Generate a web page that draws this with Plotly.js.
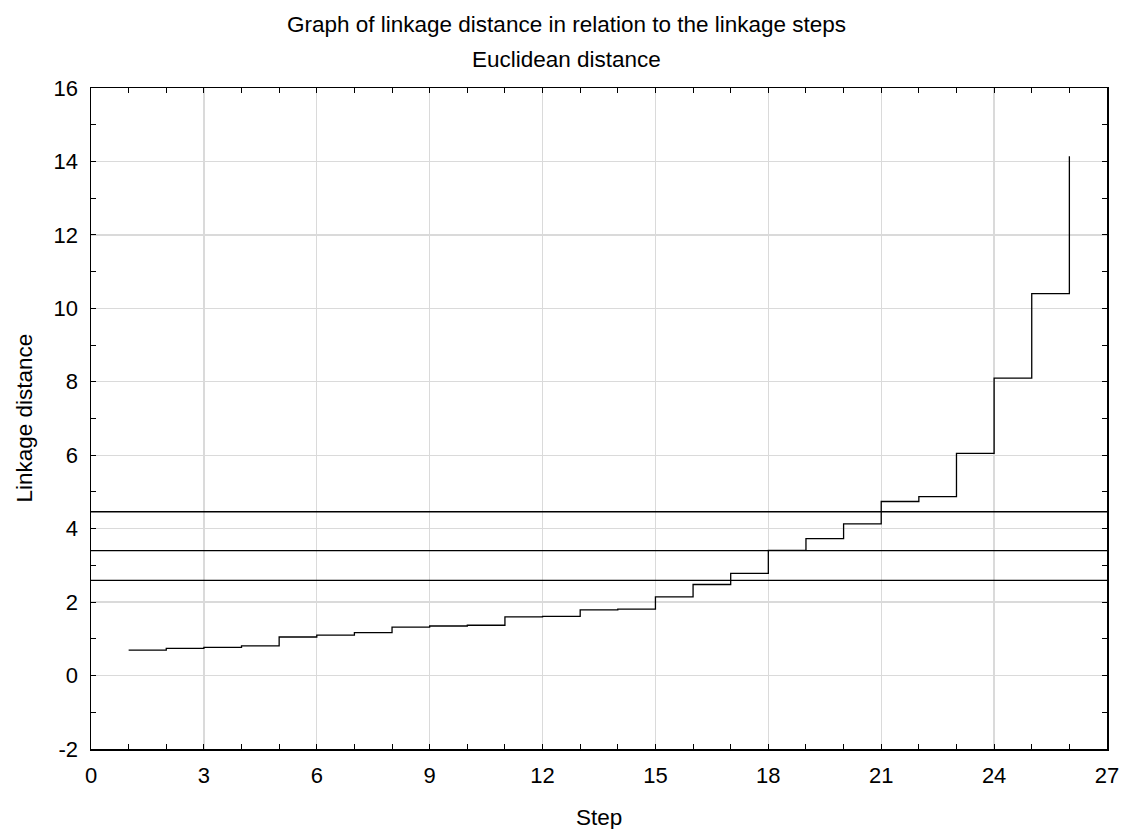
<!DOCTYPE html>
<html>
<head>
<meta charset="utf-8">
<script src="https://cdn.plot.ly/plotly-3.0.1.min.js"></script>
<style>html,body{margin:0;padding:0;background:#fff;}#chart{width:1126px;height:829px;}</style>
</head>
<body>
<div id="chart"></div>
<script>
// Linkage steps and linkage distances
var steps = [1,2,3,4,5,6,7,8,9,10,11,12,13,14,15,16,17,18,19,20,21,22,23,24,25,26];
var linkageDistance = [0.69,0.74,0.77,0.81,1.05,1.10,1.17,1.32,1.35,1.37,1.60,1.61,1.79,1.81,2.14,2.48,2.78,3.41,3.73,4.13,4.74,4.87,6.05,8.10,10.40,14.14];
// Horizontal reference (cut-off) levels
var cutLevels = [2.59, 3.40, 4.46];
var xTickVals = [0,3,6,9,12,15,18,21,24,27];
var xTickText = ["0","3","6","9","12","15","18","21","24","27"];
var yTickVals = [-2,0,2,4,6,8,10,12,14,16];
var yTickText = ["-2","0","2","4","6","8","10","12","14","16"];

var titleMain = "Graph of linkage distance in relation to the linkage steps";
var titleSub = "Euclidean distance";
var xTitle = "Step";
var yTitle = "Linkage distance";

var FONT = "Liberation Sans, Arial, sans-serif";
var FS = 22;

var traces = [{
  x: steps, y: linkageDistance,
  type: 'scatter', mode: 'lines',
  line: {shape: 'hv', color: '#000', width: 1.3},
  hoverinfo: 'x+y', showlegend: false
}];

var shapes = cutLevels.map(function(v){
  return {type:'line', xref:'paper', x0:0, x1:1, yref:'y', y0:v, y1:v,
          line:{color:'#000', width:1.3}};
});

var axisCommon = {
  showline: true, linecolor: '#000', linewidth: 1.5, mirror: 'ticks',
  ticks: 'inside', ticklen: 5, tickcolor: '#000', tickwidth: 1,
  showgrid: true, gridcolor: '#dadada', gridwidth: 1.3,
  zeroline: false, tickfont: {family: FONT, size: FS, color: '#000'}
};

var layout = {
  width: 1126, height: 829,
  margin: {l: 91, r: 19, t: 88, b: 80},
  paper_bgcolor: '#fff', plot_bgcolor: '#fff',
  font: {family: FONT, size: FS, color: '#000'},
  xaxis: Object.assign({}, axisCommon, {
    range: [0, 27], tickmode: 'array', tickvals: xTickVals, ticktext: xTickText,
    minor: {dtick: 1, tick0: 0, ticks: 'inside', ticklen: 5, tickcolor: '#000', showgrid: false},
    ticklabelstandoff: 6
  }),
  yaxis: Object.assign({}, axisCommon, {
    range: [-2, 16], tickmode: 'array', tickvals: yTickVals, ticktext: yTickText,
    minor: {dtick: 1, tick0: 0, ticks: 'inside', ticklen: 5, tickcolor: '#000', showgrid: false},
    ticklabelstandoff: 7
  }),
  shapes: shapes,
  annotations: [
    {text: titleMain, xref: 'paper', yref: 'paper', x: (566-91)/1016, y: 1 + (88-25)/661,
     xanchor: 'center', yanchor: 'middle', showarrow: false, font: {family: FONT, size: 22.5}},
    {text: titleSub, xref: 'paper', yref: 'paper', x: (566-91)/1016, y: 1 + (88-59)/661,
     xanchor: 'center', yanchor: 'middle', showarrow: false, font: {family: FONT, size: 22.5}},
    {text: xTitle, xref: 'paper', yref: 'paper', x: 0.5, y: -(817-749)/661,
     xanchor: 'center', yanchor: 'middle', showarrow: false, font: {family: FONT, size: 22.5}},
    {text: yTitle, xref: 'paper', yref: 'paper', x: -(91-24)/1016, y: 0.5, textangle: -90,
     xanchor: 'center', yanchor: 'middle', showarrow: false, font: {family: FONT, size: 22.5}}
  ]
};

Plotly.newPlot('chart', traces, layout, {displayModeBar: false, staticPlot: true});
</script>
</body>
</html>
